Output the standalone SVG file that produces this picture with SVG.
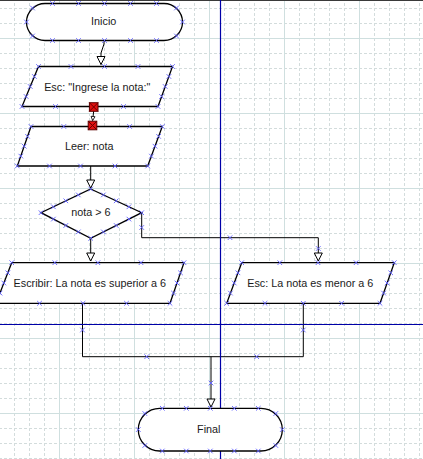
<svg xmlns="http://www.w3.org/2000/svg" xmlns:xlink="http://www.w3.org/1999/xlink" width="423" height="459" viewBox="0 0 423 459">
<style>
.shape{fill:#ffffff;stroke:#000000;stroke-width:1.3}
.conn{fill:none;stroke:#000000;stroke-width:1}
.lbl{font-family:"Liberation Sans",Arial,sans-serif;font-size:10.8px;fill:#1a1a1a;text-anchor:middle}
.guide{stroke:#0000a8;fill:none}
.red{fill:#e01010;stroke:#5a0000;stroke-width:1}
.redx{stroke:#6a0000;stroke-width:1}
</style>
<defs>
<pattern id="grid" patternUnits="userSpaceOnUse" x="59" y="38" width="75" height="75">
<g stroke="#d3dcdc" stroke-width="1" stroke-dasharray="3 2" fill="none">
<path d="M15.5,0V75M30.5,0V75M45.5,0V75M60.5,0V75"/>
<path d="M0,15.5H75M0,30.5H75M0,45.5H75M0,60.5H75"/>
</g>
<path d="M0.5,0V75M0,0.5H75" stroke="#cfdfdf" stroke-width="1" fill="none"/>
</pattern>
<marker id="arr" markerUnits="userSpaceOnUse" markerWidth="10" markerHeight="10" viewBox="-1 -1 10 10" refX="8" refY="4" orient="auto">
<path d="M0,0L8,4L0,8Z" fill="#ffffff" stroke="#000000" stroke-width="1"/>
</marker>
<marker id="arrs" markerUnits="userSpaceOnUse" markerWidth="6" markerHeight="6" viewBox="-1 -1 6 6" refX="4" refY="2" orient="auto">
<path d="M0,0L4,2L0,4Z" fill="#ffffff" stroke="#000000" stroke-width="0.8"/>
</marker>
<path id="m" d="M-2.3,-2.3L2.3,2.3M-2.3,2.3L2.3,-2.3" stroke="#6060ff" stroke-width="0.9" fill="none"/>
</defs>

<rect width="423" height="459" fill="#ffffff"/>
<rect width="423" height="459" fill="url(#grid)"/>
<rect x="0" y="0" width="423" height="1" fill="#3a3a3a"/>

<g id="connectors">
<path class="conn" d="M104,40.7V44L101,53V64.5" marker-end="url(#arr)"/>
<path class="conn" d="M93.7,111L92.6,120.5" marker-end="url(#arrs)"/>
<path class="conn" d="M90.7,166V188" marker-end="url(#arr)"/>
<path class="conn" d="M90.7,238.3V261" marker-end="url(#arr)"/>
<path class="conn" d="M141.7,212.7V237.7H318.3V261" marker-end="url(#arr)"/>
<path class="conn" d="M82.5,303.3V356.7H303.3V303.3"/>
<path class="conn" d="M211,356.7V407" marker-end="url(#arr)"/>
<use xlink:href="#m" x="141.7" y="227.5"/>
<use xlink:href="#m" x="230" y="237.7"/>
<use xlink:href="#m" x="318.3" y="248.5"/>
<use xlink:href="#m" x="82.5" y="330"/>
<use xlink:href="#m" x="303.3" y="330"/>
<use xlink:href="#m" x="146.7" y="356.7"/>
<use xlink:href="#m" x="256.7" y="356.7"/>
<use xlink:href="#m" x="211" y="383"/>
</g>

<g id="guides">
<path class="guide" stroke-width="1.2" d="M220.5,0V459"/>
<path class="guide" stroke-width="1" d="M0,324.5H423"/>
</g>

<g id="inicio">
<rect class="shape" x="26.5" y="3.5" width="156" height="37" rx="18.5" ry="18.5"/>
<text class="lbl" x="103.7" y="25">Inicio</text>
<use xlink:href="#m" x="52.5" y="3.5"/><use xlink:href="#m" x="78.5" y="3.5"/><use xlink:href="#m" x="104.5" y="3.5"/><use xlink:href="#m" x="130.5" y="3.5"/><use xlink:href="#m" x="156.5" y="3.5"/>
<use xlink:href="#m" x="52.5" y="40.5"/><use xlink:href="#m" x="78.5" y="40.5"/><use xlink:href="#m" x="104.5" y="40.5"/><use xlink:href="#m" x="130.5" y="40.5"/><use xlink:href="#m" x="156.5" y="40.5"/>
<use xlink:href="#m" x="26.5" y="22"/><use xlink:href="#m" x="182.5" y="22"/>
<use xlink:href="#m" x="32.5" y="8"/><use xlink:href="#m" x="32.5" y="36"/><use xlink:href="#m" x="176.5" y="8"/><use xlink:href="#m" x="176.5" y="36"/>
</g>

<g id="esc1">
<polygon class="shape" points="38.5,66.5 172.5,66.5 158,106.5 22,106.5"/>
<text class="lbl" x="97.2" y="90.5">Esc: "Ingrese la nota:"</text>
<use xlink:href="#m" x="71" y="66.5"/><use xlink:href="#m" x="104.5" y="66.5"/><use xlink:href="#m" x="138" y="66.5"/>
<use xlink:href="#m" x="55.5" y="106.5"/><use xlink:href="#m" x="123.5" y="106.5"/>
<use xlink:href="#m" x="38.5" y="66.5"/><use xlink:href="#m" x="172.5" y="66.5"/><use xlink:href="#m" x="158" y="106.5"/><use xlink:href="#m" x="22" y="106.5"/>
<use xlink:href="#m" x="34.4" y="76.5"/><use xlink:href="#m" x="30.2" y="86.5"/><use xlink:href="#m" x="26.1" y="96.5"/>
<use xlink:href="#m" x="168.9" y="76.5"/><use xlink:href="#m" x="165.2" y="86.5"/><use xlink:href="#m" x="161.6" y="96.5"/>
<rect class="red" x="89.4" y="102.7" width="8.6" height="8.6"/>
<path class="redx" d="M89.4,102.7l8.6,8.6M98,102.7l-8.6,8.6"/>
</g>

<g id="leer">
<polygon class="shape" points="31,126.5 162.3,126.5 147.7,166 17.3,166"/>
<text class="lbl" x="89.2" y="150">Leer: nota</text>
<use xlink:href="#m" x="63.8" y="126.5"/><use xlink:href="#m" x="129.6" y="126.5"/>
<use xlink:href="#m" x="49.5" y="166"/><use xlink:href="#m" x="80.5" y="166"/><use xlink:href="#m" x="115" y="166"/>
<use xlink:href="#m" x="31" y="126.5"/><use xlink:href="#m" x="162.3" y="126.5"/><use xlink:href="#m" x="147.7" y="166"/><use xlink:href="#m" x="17.3" y="166"/>
<use xlink:href="#m" x="27.6" y="136.4"/><use xlink:href="#m" x="24.2" y="146.2"/><use xlink:href="#m" x="20.8" y="156.1"/>
<use xlink:href="#m" x="158.6" y="136.4"/><use xlink:href="#m" x="155" y="146.2"/><use xlink:href="#m" x="151.4" y="156.1"/>
<rect class="red" x="88.2" y="121.2" width="8.6" height="8.6"/>
<path class="redx" d="M88.2,121.2l8.6,8.6M96.8,121.2l-8.6,8.6"/>
</g>

<g id="decision">
<polygon class="shape" points="90.7,189 141.7,212.7 90.7,238.3 41,212.7"/>
<text class="lbl" x="90.8" y="216">nota &gt; 6</text>
<use xlink:href="#m" x="90.7" y="189"/><use xlink:href="#m" x="141.7" y="212.7"/><use xlink:href="#m" x="90.7" y="238.3"/><use xlink:href="#m" x="41" y="212.7"/>
<use xlink:href="#m" x="103.4" y="194.9"/><use xlink:href="#m" x="116.2" y="200.8"/><use xlink:href="#m" x="128.9" y="206.8"/>
<use xlink:href="#m" x="128.9" y="219.1"/><use xlink:href="#m" x="116.2" y="225.5"/><use xlink:href="#m" x="103.4" y="231.9"/>
<use xlink:href="#m" x="78.3" y="231.9"/><use xlink:href="#m" x="65.8" y="225.5"/><use xlink:href="#m" x="53.4" y="219.1"/>
<use xlink:href="#m" x="53.4" y="206.8"/><use xlink:href="#m" x="65.8" y="200.8"/><use xlink:href="#m" x="78.3" y="194.9"/>
</g>

<g id="escribir">
<polygon class="shape" points="11.7,262.7 184,262.7 170,303.3 -4,303.3"/>
<text class="lbl" x="89.8" y="286.5">Escribir: La nota es superior a 6</text>
<use xlink:href="#m" x="54.8" y="262.7"/><use xlink:href="#m" x="97.9" y="262.7"/><use xlink:href="#m" x="141" y="262.7"/>
<use xlink:href="#m" x="39.5" y="303.3"/><use xlink:href="#m" x="83" y="303.3"/><use xlink:href="#m" x="126.5" y="303.3"/>
<use xlink:href="#m" x="11.7" y="262.7"/><use xlink:href="#m" x="184" y="262.7"/><use xlink:href="#m" x="170" y="303.3"/>
<use xlink:href="#m" x="7.8" y="272.8"/><use xlink:href="#m" x="3.8" y="283"/><use xlink:href="#m" x="0" y="293.1"/>
<use xlink:href="#m" x="180.5" y="272.8"/><use xlink:href="#m" x="177" y="283"/><use xlink:href="#m" x="173.5" y="293.1"/>
</g>

<g id="esc2">
<polygon class="shape" points="241.7,262.7 394.3,262.7 380,303.3 226.7,303.3"/>
<text class="lbl" x="310.3" y="286.5">Esc: La nota es menor a 6</text>
<use xlink:href="#m" x="279.8" y="262.7"/><use xlink:href="#m" x="318" y="262.7"/><use xlink:href="#m" x="356.1" y="262.7"/>
<use xlink:href="#m" x="265" y="303.3"/><use xlink:href="#m" x="303.3" y="303.3"/><use xlink:href="#m" x="341.6" y="303.3"/>
<use xlink:href="#m" x="241.7" y="262.7"/><use xlink:href="#m" x="394.3" y="262.7"/><use xlink:href="#m" x="380" y="303.3"/><use xlink:href="#m" x="226.7" y="303.3"/>
<use xlink:href="#m" x="237.9" y="272.8"/><use xlink:href="#m" x="234.2" y="283"/><use xlink:href="#m" x="230.4" y="293.1"/>
<use xlink:href="#m" x="390.7" y="272.8"/><use xlink:href="#m" x="387.1" y="283"/><use xlink:href="#m" x="383.6" y="293.1"/>
</g>

<g id="final">
<rect class="shape" x="138.3" y="408.3" width="144" height="42.7" rx="21.35" ry="21.35"/>
<text class="lbl" x="208.8" y="433">Final</text>
<use xlink:href="#m" x="162.3" y="408.3"/><use xlink:href="#m" x="186.3" y="408.3"/><use xlink:href="#m" x="210.3" y="408.3"/><use xlink:href="#m" x="234.3" y="408.3"/><use xlink:href="#m" x="258.3" y="408.3"/>
<use xlink:href="#m" x="162.3" y="451"/><use xlink:href="#m" x="186.3" y="451"/><use xlink:href="#m" x="210.3" y="451"/><use xlink:href="#m" x="234.3" y="451"/><use xlink:href="#m" x="258.3" y="451"/>
<use xlink:href="#m" x="138.3" y="429.6"/><use xlink:href="#m" x="282.3" y="429.6"/>
<use xlink:href="#m" x="144.8" y="413.5"/><use xlink:href="#m" x="144.8" y="445.5"/><use xlink:href="#m" x="275.8" y="413.5"/><use xlink:href="#m" x="275.8" y="445.5"/>
</g>
</svg>
